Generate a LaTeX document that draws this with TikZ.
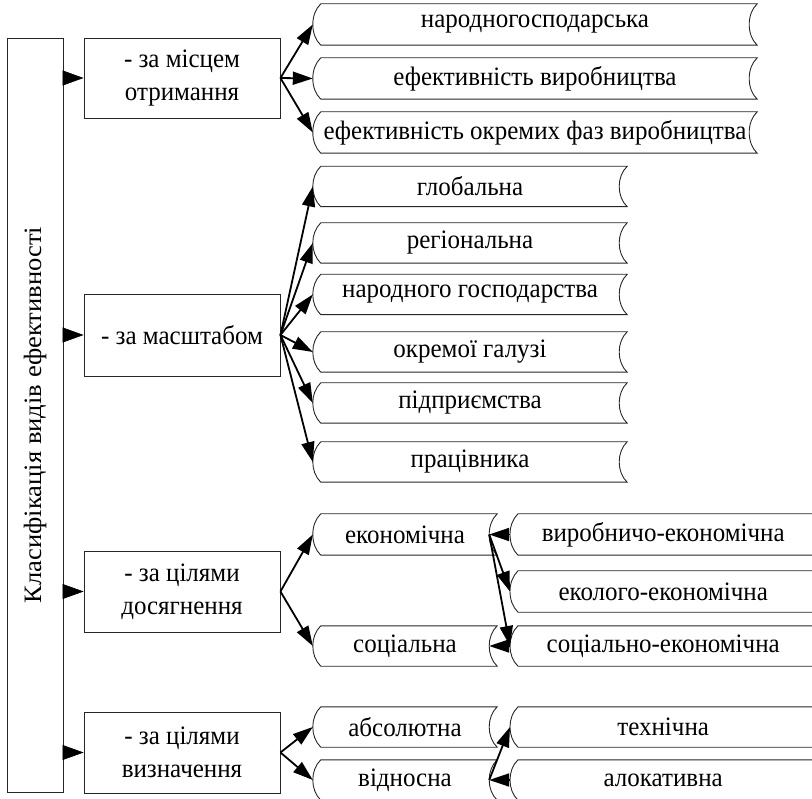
\documentclass[tikz,border=0pt]{standalone}
\usepackage{fontspec}
\setmainfont{Liberation Serif}
\newfontfamily\condfont[FakeStretch=0.94]{Liberation Serif}
\newfontfamily\widefont[FakeStretch=1.064]{Liberation Serif}
\usetikzlibrary{arrows.meta}
\tikzset{
 txt/.style={font=\condfont\fontsize{26.6}{33}\selectfont, inner sep=0pt, align=center},
 rectbox/.style={txt, draw=black!85, line width=0.9pt},
 sdnode/.style={txt, minimum height=41pt},
 conn/.style={line width=1.8pt, -{Triangle[length=20pt,width=13pt]}},
 feed/.style={line width=0.6pt, -{Triangle[length=21pt,width=15pt]}},
 sdline/.style={draw=black!85, line width=0.9pt}
}
\newcommand\sdshape[1]{\draw[sdline] ([xshift=8pt]#1.north west) -- (#1.north east) .. controls ([xshift=-10.67pt,yshift=-10pt]#1.north east) and ([xshift=-10.67pt,yshift=10pt]#1.south east) .. (#1.south east) -- ([xshift=8pt]#1.south west) .. controls ([xshift=-2.67pt,yshift=10pt]#1.south west) and ([xshift=-2.67pt,yshift=-10pt]#1.north west) .. ([xshift=8pt]#1.north west) -- cycle;}
\newcommand\rtxt[1]{\makebox[306pt]{#1}\hspace{30pt}}
\begin{document}
\begin{tikzpicture}[x=1pt,y=-1pt]
\useasboundingbox (0,0) rectangle (812,799);
\clip (0,0) rectangle (812,799);
% root
\node[rectbox, minimum width=56pt, minimum height=754pt] (root) at (35,415) {};
\node[font=\widefont\fontsize{25}{30}\selectfont, inner sep=0pt, rotate=90] (roottxt) at (root.center) {Класифікація видів ефективності};
% level 1
\node[rectbox, minimum width=196pt, minimum height=80pt] (m1) at (182,78) {- за місцем\\отримання};
\node[rectbox, minimum width=196pt, minimum height=82pt] (m2) at (182,335) {- за масштабом};
\node[rectbox, minimum width=196pt, minimum height=81pt] (m3) at (182,591.5) {- за цілями\\досягнення};
\node[rectbox, minimum width=196pt, minimum height=81pt] (m4) at (182,752.5) {- за цілями\\визначення};
% group 1
\node[sdnode, minimum width=444pt] (a1) at (535,24.5) {народногосподарська};
\node[sdnode, minimum width=444pt] (a2) at (535,78.5) {ефективність виробництва};
\node[sdnode, minimum width=444pt] (a3) at (535,132.5) {ефективність окремих фаз виробництва};
% group 2
\node[sdnode, minimum width=314pt, minimum height=40pt] (b1) at (470,186.5) {глобальна};
\node[sdnode, minimum width=314pt, minimum height=40pt] (b2) at (470,243) {регіональна};
\node[sdnode, minimum width=314pt, minimum height=40pt] (b3) at (470,294.5) {народного господарства};
\node[sdnode, minimum width=314pt, minimum height=40pt] (b4) at (470,352) {окремої галузі};
\node[sdnode, minimum width=314pt, minimum height=40pt] (b5) at (470,403) {підприємства};
\node[sdnode, minimum width=314pt, minimum height=40pt] (b6) at (470,462) {працівника};
% group 3
\node[sdnode, minimum width=184pt] (c1) at (405,534.5) {економічна};
\node[sdnode, minimum width=184pt, minimum height=40pt] (c2) at (405,646) {соціальна};
\node[sdnode, anchor=west] (d1) at (510,534.5) {\rtxt{виробничо-економічна}};
\node[sdnode, anchor=west] (d2) at (510,591.5) {\rtxt{еколого-економічна}};
\node[sdnode, anchor=west, minimum height=40pt] (d3) at (510,646) {\rtxt{соціально-економічна}};
% group 4
\node[sdnode, minimum width=184pt, minimum height=40pt] (e1) at (405,727) {абсолютна};
\node[sdnode, minimum width=184pt, minimum height=40pt] (e2) at (405,780) {відносна};
\node[sdnode, anchor=west, minimum height=40pt] (f1) at (510,727) {\rtxt{технічна}};
\node[sdnode, anchor=west, minimum height=40pt] (f2) at (510,780) {\rtxt{алокативна}};
\foreach \n in {a1,a2,a3,b1,b2,b3,b4,b5,b6,c1,c2,d1,d2,d3,e1,e2,f1,f2}{\sdshape{\n}}
% inner right anchors
\coordinate (c1r) at ([xshift=-8pt]c1.east);
\coordinate (c2r) at ([xshift=-8pt]c2.east);
\coordinate (e2r) at ([xshift=-8pt]e2.east);
% feed arrows
\foreach \m in {m1,m2,m3,m4}{\draw[feed] (root.east |- \m.west) -- (\m.west);}
% connectors
\foreach \t in {a1,a2,a3}{\draw[conn] (m1.east) -- (\t.west);}
\foreach \t in {b1,b2,b3,b4,b5,b6}{\draw[conn] (m2.east) -- (\t.west);}
\foreach \t in {c1,c2}{\draw[conn] (m3.east) -- (\t.west);}
\foreach \t in {e1,e2}{\draw[conn] (m4.east) -- (\t.west);}
\draw[conn] (d1.west) -- (c1r);
\draw[conn] (c1r) -- (d2.west);
\draw[conn] (c1r) -- (d3.west);
\draw[conn] (d3.west) -- (c2r);
\draw[conn] (f2.west) -- (e2r);
\draw[conn] (e2r) -- (f1.west);
\end{tikzpicture}
\end{document}
